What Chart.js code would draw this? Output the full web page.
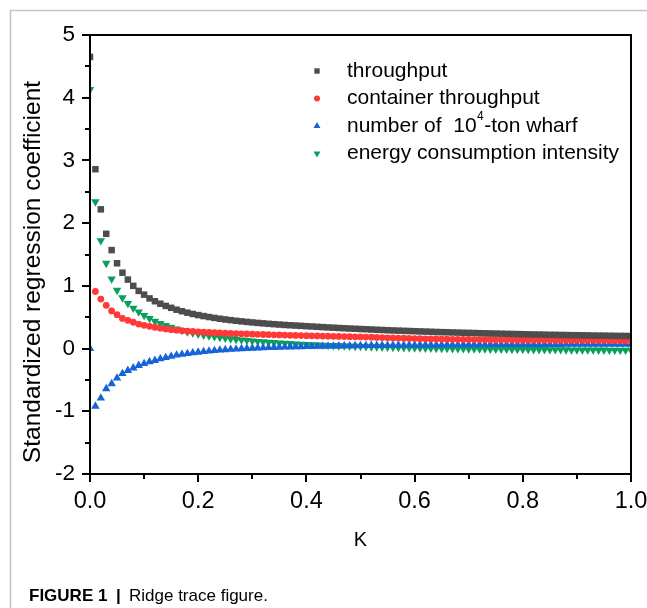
<!DOCTYPE html>
<html>
<head>
<meta charset="utf-8">
<script src="https://cdn.jsdelivr.net/npm/chart.js@4/dist/chart.umd.min.js"></script>
<style>
html,body{margin:0;padding:0;background:#fff;}
#wrap{width:647px;height:608px;position:relative;}
</style>
</head>
<body>
<div id="wrap"><canvas id="c" width="647" height="608"></canvas></div>
<script>
// K values (ridge parameter)
const kValues = [0,0.01,0.02,0.03,0.04,0.05,0.06,0.07,0.08,0.09,0.10,
0.11,0.12,0.13,0.14,0.15,0.16,0.17,0.18,0.19,0.20,
0.21,0.22,0.23,0.24,0.25,0.26,0.27,0.28,0.29,0.30,
0.31,0.32,0.33,0.34,0.35,0.36,0.37,0.38,0.39,0.40,
0.41,0.42,0.43,0.44,0.45,0.46,0.47,0.48,0.49,0.50,
0.51,0.52,0.53,0.54,0.55,0.56,0.57,0.58,0.59,0.60,
0.61,0.62,0.63,0.64,0.65,0.66,0.67,0.68,0.69,0.70,
0.71,0.72,0.73,0.74,0.75,0.76,0.77,0.78,0.79,0.80,
0.81,0.82,0.83,0.84,0.85,0.86,0.87,0.88,0.89,0.90,
0.91,0.92,0.93,0.94,0.95,0.96,0.97,0.98,0.99,1.00];

const throughput = [4.65,
2.86,2.22,1.83,1.57,1.36,1.21,1.10,1.00,0.92,0.86,
0.80,0.755,0.715,0.68,0.65,0.62,0.595,0.572,0.552,0.534,
0.518,0.503,0.489,0.476,0.464,0.453,0.443,0.434,0.425,0.417,
0.409,0.402,0.395,0.389,0.383,0.377,0.372,0.367,0.362,0.357,
0.352,0.347,0.342,0.337,0.333,0.328,0.324,0.320,0.316,0.312,
0.308,0.304,0.300,0.296,0.293,0.289,0.286,0.283,0.280,0.277,
0.274,0.271,0.268,0.265,0.262,0.260,0.257,0.255,0.252,0.250,
0.248,0.245,0.243,0.241,0.239,0.237,0.235,0.233,0.231,0.229,
0.227,0.225,0.224,0.222,0.220,0.219,0.217,0.216,0.214,0.213,
0.211,0.210,0.208,0.207,0.206,0.204,0.203,0.202,0.201,0.199];

const containerThroughput = [null,
0.91,0.79,0.69,0.60,0.54,0.48,0.45,0.42,0.39,0.37,
0.355,0.34,0.325,0.313,0.302,0.293,0.285,0.278,0.272,0.266,
0.261,0.256,0.252,0.248,0.244,0.241,0.238,0.235,0.232,0.229,
0.227,0.224,0.222,0.219,0.217,0.215,0.212,0.210,0.208,0.206,
0.204,0.202,0.200,0.198,0.196,0.194,0.192,0.190,0.188,0.186,
0.184,0.181,0.178,0.175,0.172,0.170,0.167,0.165,0.162,0.160,
0.158,0.156,0.154,0.153,0.151,0.150,0.148,0.147,0.146,0.145,
0.144,0.143,0.142,0.141,0.140,0.140,0.139,0.138,0.138,0.137,
0.137,0.136,0.136,0.135,0.135,0.134,0.134,0.133,0.133,0.132,
0.132,0.132,0.131,0.131,0.131,0.130,0.130,0.130,0.129,0.129];

const wharfCount = [0.0,
-0.92,-0.79,-0.64,-0.56,-0.47,-0.40,-0.35,-0.31,-0.27,-0.24,
-0.21,-0.19,-0.165,-0.145,-0.125,-0.105,-0.092,-0.080,-0.068,-0.058,
-0.049,-0.040,-0.032,-0.025,-0.019,-0.013,-0.008,-0.003,0.001,0.005,
0.009,0.012,0.015,0.018,0.021,0.023,0.026,0.028,0.030,0.032,
0.034,0.036,0.037,0.039,0.040,0.042,0.043,0.044,0.046,0.047,
0.048,0.049,0.050,0.051,0.052,0.053,0.054,0.054,0.055,0.056,
0.057,0.057,0.058,0.058,0.059,0.059,0.060,0.060,0.061,0.061,
0.062,0.062,0.062,0.063,0.063,0.063,0.064,0.064,0.064,0.065,
0.065,0.065,0.065,0.066,0.066,0.066,0.066,0.067,0.067,0.067,
0.067,0.067,0.068,0.068,0.068,0.068,0.068,0.069,0.069,0.069];

const energyIntensity = [4.13,
2.34,1.72,1.36,1.11,0.93,0.81,0.72,0.645,0.585,0.53,
0.48,0.435,0.40,0.367,0.34,0.314,0.29,0.268,0.249,0.232,
0.216,0.202,0.189,0.177,0.166,0.156,0.147,0.138,0.130,0.122,
0.115,0.108,0.102,0.096,0.090,0.085,0.080,0.075,0.071,0.066,
0.062,0.058,0.055,0.051,0.048,0.045,0.042,0.039,0.036,0.034,
0.031,0.029,0.026,0.024,0.022,0.020,0.018,0.016,0.014,0.012,
0.010,0.008,0.007,0.005,0.004,0.002,0.001,-0.001,-0.002,-0.003,
-0.004,-0.005,-0.006,-0.007,-0.008,-0.009,-0.010,-0.011,-0.012,-0.013,
-0.014,-0.015,-0.015,-0.016,-0.017,-0.018,-0.018,-0.019,-0.020,-0.020,
-0.021,-0.022,-0.022,-0.023,-0.023,-0.024,-0.024,-0.025,-0.025,-0.026];

const seriesNames = ["throughput","container throughput","number of  10|4|-ton wharf","energy consumption intensity"];
const xTicks = [0,0.2,0.4,0.6,0.8,1.0];
const yTicks = [-2,-1,0,1,2,3,4,5];
const xTitle = "K";
const yTitle = "Standardized regression coefficient";
const captionBold = "FIGURE 1";
const captionText = "Ridge trace figure.";

const COLORS = ['#4d4d4d','#ff3838','#1664d9','#0b9f5c'];
const STYLES = [
  {pointStyle:'rect', radius:4.6, rotation:0},
  {pointStyle:'circle', radius:3.4, rotation:0},
  {pointStyle:'triangle', radius:4.9, rotation:0},
  {pointStyle:'triangle', radius:4.9, rotation:180}
];
const seriesData = [throughput, containerThroughput, wharfCount, energyIntensity];

const datasets = seriesData.map((arr,i)=>({
  label: seriesNames[i].replace(/\|/g,''),
  data: kValues.map((k,j)=>({x:k,y:arr[j]})),
  showLine:false,
  pointStyle: STYLES[i].pointStyle,
  pointRadius: STYLES[i].radius,
  pointRotation: STYLES[i].rotation,
  pointBackgroundColor: COLORS[i],
  pointBorderWidth: 0,
  pointHoverRadius: STYLES[i].radius,
  borderColor: COLORS[i],
  backgroundColor: COLORS[i]
}));

const FONT = '"Liberation Sans", Arial, sans-serif';

function drawMarker(ctx, style, color, x, y, r){
  ctx.save();
  ctx.fillStyle = color;
  ctx.beginPath();
  if(style.pointStyle==='rect'){
    const s = r*Math.SQRT1_2;
    ctx.rect(x-s,y-s,2*s,2*s);
  } else if(style.pointStyle==='circle'){
    ctx.arc(x,y,r,0,Math.PI*2);
  } else {
    const dir = style.rotation===180 ? -1 : 1;
    const h = r*Math.sin(Math.PI/3);
    ctx.moveTo(x, y - dir*r);
    ctx.lineTo(x - h, y + dir*r/2);
    ctx.lineTo(x + h, y + dir*r/2);
    ctx.closePath();
  }
  ctx.fill();
  ctx.restore();
}

function noPad(s){ s.paddingLeft=0; s.paddingRight=0; s.paddingTop=0; s.paddingBottom=0; }

const decor = {
  id:'decor',
  beforeDraw(chart){
    const ctx = chart.ctx;
    ctx.save();
    ctx.fillStyle='#fff';
    ctx.fillRect(0,0,chart.width,chart.height);
    ctx.strokeStyle='#c4c4c4';
    ctx.lineWidth=1.5;
    ctx.beginPath();
    ctx.moveTo(10.5,608);
    ctx.lineTo(10.5,10.5);
    ctx.lineTo(647,10.5);
    ctx.stroke();
    ctx.restore();
  },
  afterDatasetsDraw(chart){
    const ctx = chart.ctx;
    const xs = chart.scales.x, ys = chart.scales.y;
    const a = chart.chartArea;
    ctx.save();
    ctx.strokeStyle='#000';
    ctx.lineWidth=2;
    ctx.beginPath();
    ctx.rect(a.left, a.top, a.right-a.left, a.bottom-a.top);
    ctx.stroke();
    ctx.beginPath();
    for(let v=-2; v<=5.001; v+=0.5){
      const p = Math.round(ys.getPixelForValue(v));
      const major = Math.abs(v-Math.round(v))<1e-6;
      ctx.moveTo(a.left, p);
      ctx.lineTo(a.left-(major?8:5), p);
    }
    for(let v=0; v<=1.0001; v+=0.1){
      const p = Math.round(xs.getPixelForValue(v));
      const major = Math.round(v*10)%2===0;
      ctx.moveTo(p, a.bottom);
      ctx.lineTo(p, a.bottom+(major?8:5));
    }
    ctx.stroke();
    ctx.restore();
  },
  afterDraw(chart){
    const ctx = chart.ctx;
    const a = chart.chartArea;
    ctx.save();
    ctx.fillStyle='#000';
    ctx.font = '20px '+FONT;
    ctx.textAlign='center';
    ctx.textBaseline='middle';
    ctx.fillText(xTitle, (a.left+a.right)/2, 540);
    ctx.save();
    ctx.translate(33, 272);
    ctx.rotate(-Math.PI/2);
    ctx.font = '24.5px '+FONT;
    ctx.fillText(yTitle, 0, 0);
    ctx.restore();
    // legend
    const rows=[71,98.5,126,153.5];
    const lr=[3.8,3.0,4.0,4.0];
    ctx.textAlign='left';
    ctx.textBaseline='middle';
    seriesNames.forEach((name,i)=>{
      drawMarker(ctx, STYLES[i], COLORS[i], 317, rows[i], lr[i]);
      ctx.font='21px '+FONT;
      const parts = name.split('|');
      let x = 347;
      ctx.fillText(parts[0], x, rows[i]);
      if(parts.length>1){
        x += ctx.measureText(parts[0]).width;
        ctx.font='12px '+FONT;
        ctx.fillText(parts[1], x+0.5, rows[i]-9);
        x += ctx.measureText(parts[1]).width+1;
        ctx.font='21px '+FONT;
        ctx.fillText(parts[2], x, rows[i]);
      }
    });
    ctx.textBaseline='alphabetic';
    ctx.font='bold 17px '+FONT;
    ctx.fillText(captionBold, 29, 601);
    ctx.fillText('|', 116, 601);
    ctx.font='17px '+FONT;
    ctx.fillText(captionText, 129, 601);
    ctx.restore();
  }
};

new Chart(document.getElementById('c'), {
  type:'scatter',
  data:{datasets},
  plugins:[decor],
  options:{
    responsive:false,
    animation:false,
    events:[],
    layout:{padding:{top:35,right:16,left:0,bottom:0}, autoPadding:false},
    plugins:{legend:{display:false}, tooltip:{enabled:false}},
    scales:{
      x:{
        type:'linear', min:0, max:1,
        afterFit(s){ s.height = 134; noPad(s); },
        afterBuildTicks(s){ s.ticks = xTicks.map(v=>({value:v})); },
        grid:{display:false, drawTicks:false},
        border:{display:false},
        ticks:{color:'#000', font:{size:23.5, family:FONT}, padding:13, maxRotation:0, autoSkip:false,
          callback:(v)=>Number(v).toFixed(1)}
      },
      y:{
        type:'linear', min:-2, max:5,
        afterFit(s){ s.width = 90; noPad(s); },
        afterBuildTicks(s){ s.ticks = yTicks.map(v=>({value:v})); },
        grid:{display:false, drawTicks:false},
        border:{display:false},
        ticks:{color:'#000', font:{size:22.5, family:FONT}, padding:15, autoSkip:false,
          callback:(v)=>String(v)}
      }
    }
  }
});
</script>
</body>
</html>
